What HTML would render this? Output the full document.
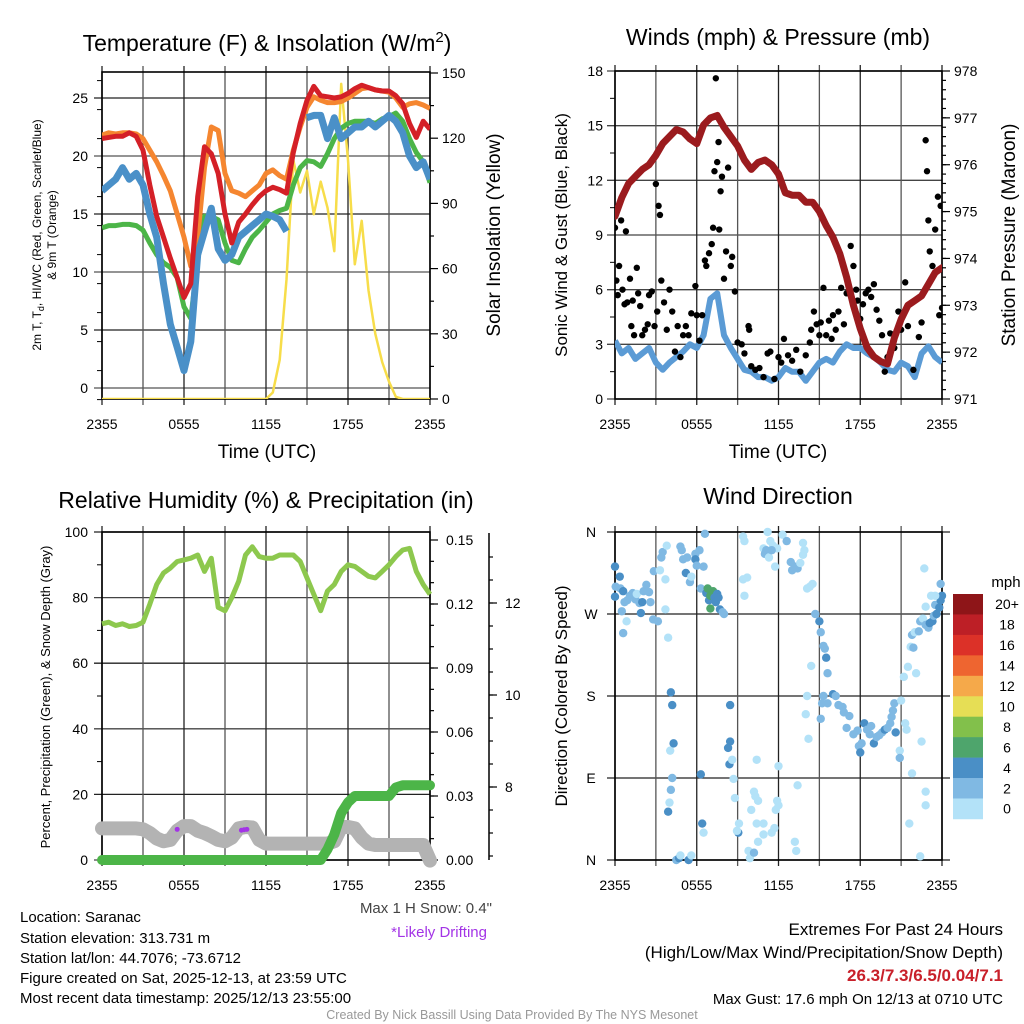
<!DOCTYPE html>
<html><head><meta charset="utf-8"><style>
html,body{margin:0;padding:0;background:#fff;}
svg{display:block;font-family:"Liberation Sans",Arial,sans-serif;}
</style></head><body>
<svg id="c" width="1024" height="1024" viewBox="0 0 1024 1024" xmlns="http://www.w3.org/2000/svg">
<g id="g"></g>
<text x="267" y="51" font-size="23" text-anchor="middle">Temperature (F) &amp; Insolation (W/m<tspan dy="-9" font-size="15">2</tspan><tspan dy="9">)</tspan></text>
<text x="778" y="45" font-size="23" text-anchor="middle">Winds (mph) &amp; Pressure (mb)</text>
<text x="266" y="508" font-size="23" text-anchor="middle">Relative Humidity (%) &amp; Precipitation (in)</text>
<text x="778" y="504" font-size="23" text-anchor="middle">Wind Direction</text>
<text transform="translate(41,235) rotate(-90)" font-size="12" text-anchor="middle">2m T, T<tspan font-size="9" dy="3">d</tspan><tspan dy="-3">, HI/WC (Red, Green, Scarlet/Blue)</tspan></text>
<text transform="translate(56,235) rotate(-90)" font-size="12" text-anchor="middle">&amp; 9m T (Orange)</text>
<text transform="translate(500,235) rotate(-90)" font-size="19" text-anchor="middle">Solar Insolation (Yellow)</text>
<text x="267" y="458" font-size="19" text-anchor="middle">Time (UTC)</text>
<text x="778" y="458" font-size="19" text-anchor="middle">Time (UTC)</text>
<text transform="translate(567,235) rotate(-90)" font-size="17" text-anchor="middle">Sonic Wind &amp; Gust (Blue, Black)</text>
<text transform="translate(1015,235) rotate(-90)" font-size="19" text-anchor="middle">Station Pressure (Maroon)</text>
<text transform="translate(50,697) rotate(-90)" font-size="13" text-anchor="middle">Percent, Precipitation (Green), &amp; Snow Depth (Gray)</text>
<text transform="translate(567,696) rotate(-90)" font-size="17" text-anchor="middle">Direction (Colored By Speed)</text>
<text x="492" y="913" font-size="15" fill="#444" text-anchor="end">Max 1 H Snow: 0.4"</text>
<text x="487" y="937" font-size="15" fill="#a334e6" text-anchor="end">*Likely Drifting</text>
<g font-size="15">
<text x="20" y="922">Location: Saranac</text>
<text x="20" y="943">Station elevation: 313.731 m</text>
<text x="20" y="963">Station lat/lon: 44.7076; -73.6712</text>
<text x="20" y="983">Figure created on Sat, 2025-12-13, at 23:59 UTC</text>
<text x="20" y="1003">Most recent data timestamp: 2025/12/13 23:55:00</text>
</g>
<g text-anchor="end">
<text x="1003" y="935" font-size="17">Extremes For Past 24 Hours</text>
<text x="1003" y="958" font-size="17">(High/Low/Max Wind/Precipitation/Snow Depth)</text>
<text x="1003" y="981" font-size="17" font-weight="bold" fill="#c8202a">26.3/7.3/6.5/0.04/7.1</text>
<text x="1003" y="1004" font-size="15">Max Gust: 17.6 mph On 12/13 at 0710 UTC</text>
</g>
<text x="512" y="1019" font-size="12.5" fill="#999" text-anchor="middle">Created By Nick Bassill Using Data Provided By The NYS Mesonet</text>
</svg>
<script>
// ---------- data ----------
const hours = [0,0.5,1,1.5,2,2.5,3,3.5,4,4.5,5,5.5,6,6.5,7,7.5,8,8.5,9,9.5,10,10.5,11,11.5,12,12.5,13,13.5,14,14.5,15,15.5,16,16.5,17,17.5,18,18.5,19,19.5,20,20.5,21,21.5,22,22.5,23,23.5,24];
const timeTicks = [0,6,12,18,24];
const timeTickLabels = ["2355","0555","1155","1755","2355"];
const tempRed = [21.5,21.6,21.7,21.7,22,21.7,20.5,17.5,14.8,13,11.2,9.5,7.8,9,16.5,20.8,20.2,18.5,15,12.5,14.3,15,15.8,16.5,17,17.3,17.1,16.8,20.3,22.8,24.8,26,25.2,25.1,25,25.1,25.4,25.8,26.1,25.9,25.7,25.6,25.6,25.2,24.5,22.8,21.6,23,22.3];
const tempOrange = [21.8,22,21.9,22,22,21.9,21.5,20.5,19.5,18.3,17,15,13,10.5,13,19,22.5,22.2,18.5,17,16.8,16.5,17,17.5,18.5,18.8,18.3,18,20.5,22.5,24.2,25.1,24.8,24.6,24.6,24.7,25,25.4,25.8,25.9,25.7,25.6,25.5,25,24.2,24.5,24.6,24.4,24.1];
const dewGreen = [13.8,14,14,14.1,14.1,14,13.6,12.5,11.5,10.8,10.4,9.5,7,6,11,14.8,14.8,14.5,12.5,11,10.8,12,13,13.6,14.3,15,15.3,15.5,17.5,19,19.6,19.5,19.1,20.2,21.5,22.4,22.8,23,23,23,22.8,23.2,23.4,23.7,23,21.5,20.3,19.5,17.7];
const windChillBlue = [17,17.5,18,19,18,18.5,17.5,15,13,9,5.5,3.5,1.5,4,11.5,13.5,15.5,12,11,11.5,13,13.5,14,14.5,15,14.8,14.5,13.5,null,null,23.3,23.5,23.5,21.5,23.3,21.5,22,22.5,22.5,23,22.5,23,23.5,23,22,20,19,19.5,18];
const solar = [0,0,0,0,0,0,0,0,0,0,0,0,0,0,0,0,0,0,0,0,0,0,0,0,0,3,18,55,110,95,105,85,100,88,68,145,110,62,82,50,30,17,8,1,0,0,0,0,0];
const tempTicks = [0,5,10,15,20,25];
const solarTicks = [0,30,60,90,120,150];

const pressure = [974.9,975.3,975.6,975.75,975.9,976,976.2,976.45,976.6,976.75,976.7,976.55,976.45,976.85,977,977.05,976.8,976.6,976.4,976.1,975.9,976.05,976.1,976,975.8,975.4,975.35,975.35,975.2,975.2,975,974.7,974.45,974.1,973.6,973,972.5,972.1,971.9,971.8,971.75,972.3,972.7,973,973.1,973.2,973.45,973.7,973.8];
const windSpeed = [3.2,2.5,2.8,2.2,2.5,2.8,2,1.6,2,2.3,2.6,3,2.8,3.5,5.5,5.8,3.5,2.8,2.2,1.6,1.5,1.2,1.2,1,1.2,1.7,1.5,1.5,1,1.5,2,2.2,2,2.6,3,2.8,2.8,2.5,2.3,2,1.6,1.5,2,1.8,1.2,2.5,2.9,2.3,2];
const gustHours = [0,0.1,0.2,0.3,0.45,0.55,0.7,0.8,0.9,1.1,1.2,1.3,1.4,1.6,1.7,1.85,2,2.2,2.4,2.5,2.7,2.9,3,3.1,3.2,3.3,3.4,3.6,3.8,4,4.2,4.4,4.6,4.8,5,5.2,5.4,5.6,5.9,6,6.2,6.4,6.6,6.7,6.9,7.1,7.2,7.3,7.4,7.5,7.6,7.65,7.75,7.85,8,8.15,8.3,8.5,8.6,8.8,9,9.3,9.5,9.8,9.85,10,10.3,10.6,10.9,11.2,11.4,11.7,12,12.2,12.4,12.7,13,13.3,13.6,14,14.3,14.4,14.6,14.8,15,15.1,15.3,15.5,15.7,15.9,16,16.2,16.4,16.6,16.8,17,17.3,17.5,17.7,17.8,18,18.2,18.4,18.6,18.8,19,19.2,19.4,19.6,19.8,20,20.2,20.5,20.8,21,21.3,21.5,21.9,22.3,22.5,22.8,22.9,23,23.1,23.3,23.5,23.7,23.8,23.9,24];
const gustValues = [9.4,6.5,5.7,7.3,9.8,6,5.2,9.2,5.3,6.6,4,5.4,3.5,7.2,5.8,5.1,3.5,3.8,4.1,5.7,5.9,4,11.8,4.8,10.6,10.1,6.5,5.3,3.8,6,4.8,2.6,4,2.3,3.5,4,3.5,4.7,6.2,4.6,3.2,4.6,7.6,7.3,8,8.5,9.4,12.5,17.6,13,14.1,9.3,11.4,12.2,6.6,8.1,12.7,7.3,7.8,5.9,3.1,3,2.5,4,3.8,1.8,1.6,1.7,1.2,2.5,2.6,1.1,2.3,2,3.3,2.4,2.1,2.7,1.5,2.4,3.1,3.8,4.8,4.1,3.5,4.2,6.1,3.5,4.3,3.3,4.6,3.8,4.8,6.1,4.1,5.8,8.4,7.3,6,5.4,4.4,5.2,5.8,6,5.6,6.3,4.9,4.3,3.5,1.5,2.3,3.6,2.8,4.8,3.8,6.4,4,1.6,3.4,4.2,14.2,12.5,9.8,8.1,7.3,9.3,11.1,4.6,10.6,5];
const windTicks = [0,3,6,9,12,15,18];
const pressureTicks = [971,972,973,974,975,976,977,978];

const humidity = [72,72.5,71.5,72,71.2,71.5,72.5,78,84,87.5,89,91,91.5,92,93,88,92,77,76,80,85,93,95.5,92.5,92,92,93,93,93,91,86,81,76,82,84,88,90,89.5,88,86.5,86,88,90,92.5,94.5,95,88,84,81];
const precip = [0,0,0,0,0,0,0,0,0,0,0,0,0,0,0,0,0,0,0,0,0,0,0,0,0,0,0,0,0,0,0,0,0,0.005,0.012,0.022,0.027,0.03,0.03,0.03,0.03,0.03,0.03,0.034,0.035,0.035,0.035,0.035,0.035];
const snowDepth = [7.1,7.1,7.1,7.1,7.1,7.1,7.08,7,6.88,6.82,6.85,7.05,7.15,7.15,7.05,7,6.93,6.85,6.82,6.9,7.1,7.13,7.12,6.85,6.77,6.77,6.77,6.77,6.77,6.77,6.77,6.77,6.77,6.77,6.82,7.13,7.13,7.1,6.9,6.77,6.74,6.74,6.74,6.74,6.74,6.74,6.74,6.74,6.4];
const driftHours = [5.5,10.2,10.4,10.6];
const driftSnow = [7.08,7.06,7.07,7.08];
const humidityTicks = [0,20,40,60,80,100];
const precipTicks = [0,0.03,0.06,0.09,0.12,0.15];
const precipTickLabels = ["0.00","0.03","0.06","0.09","0.12","0.15"];
const snowTicks = [8,10,12];

const dirHours = [0,0,0.05,0.35,0.4,0.5,0.6,0.7,0.85,0.6,0.9,1.1,1.3,1.5,1.6,1.8,1.9,2,2.1,2.3,2.5,2.6,2.85,2.8,3.15,3.3,3.4,3.5,3.7,3.7,3.8,3.9,4.8,4.9,5,5.2,5.3,5.5,5.6,5.9,5.9,6,6.2,6.3,6.5,6.6,6.7,6.8,6.9,7,7,7.2,7.3,7.4,7.5,7.6,7.7,7.9,8,4.1,4.2,4.05,4.3,4.2,4.1,4,3.9,4.5,4.7,4.8,5.4,5.6,6.3,6.4,6.5,8.45,8.45,8.3,8.4,8.6,8.7,8.8,9.1,9.05,8.95,9.4,9.5,9.4,9.5,9.7,10.4,10.2,10.3,10,10.5,10.4,10.5,9.8,9.9,10.2,10.9,10.9,11.5,11.7,11.8,12,11.9,12,11.2,11.4,11.6,11.9,10.9,11,11.1,11.3,11.5,11.75,12.3,12.6,12.9,13,13.2,13.4,13.6,13.8,13.9,13.8,13.4,13.2,13.3,14.3,14.5,14.1,14.7,15,15.1,15.3,15.4,15.5,15.6,14.4,14.1,14,14.2,15.3,15.2,15.1,15.6,16,16.2,16.4,16.7,16.8,17,17.2,17.5,17.8,17.9,18,18.1,18.3,18.5,18.7,18.8,19,19.2,19.4,19.6,19.8,20,20.2,20.3,20.4,20.5,20.6,20.9,20.9,21,21.3,21.4,21.2,21.5,21.7,21.8,21.9,22.1,22,22.3,22.4,22.6,22.8,23,23.1,23.3,23.4,23.5,23.6,23.8,23.9,24,23.9,23.5,22.8,23.2,21.8,21.6,22.5,22.8,22.8,22.4,22.7];
const dirDegrees = [322,289,300,311,298,273,295,283,262,249,285,290,293,286,292,282,271,283,295,302,294,283,317,264,262,318,332,338,308,275,345,244,344,340,330,315,332,305,311,336,330,323,340,298,322,358,293,298,285,290,276,295,288,283,292,288,275,272,270,184,170,120,128,90,77,63,53,0,2,5,0,5,94,40,30,170,130,123,105,110,89,68,40,30,32,355,350,308,290,310,110,75,70,55,65,40,20,10,2,8,28,40,30,35,55,60,65,103,360,350,345,342,342,336,340,332,340,322,357,350,327,318,322,320,326,335,340,348,82,20,10,300,303,298,270,262,250,235,232,222,205,213,180,160,133,180,172,155,172,182,180,170,168,162,145,158,138,142,125,118,128,150,143,138,147,128,135,137,140,143,145,150,157,164,172,140,120,112,175,150,143,201,212,234,247,233,205,250,251,262,265,258,255,260,262,268,280,270,277,285,290,303,290,278,290,95,40,130,60,75,4,320];
const dirSpeeds = [4,4,2,4,2,2,4,2,0,2,2,2,2,2,0,2,4,4,2,2,2,2,2,2,2,0,2,2,0,0,0,0,2,2,2,4,2,2,0,2,4,2,2,2,2,2,4,6,4,6,6,6,4,4,4,4,4,2,2,4,4,0,4,2,2,0,4,2,4,0,4,0,4,4,0,4,4,4,4,0,0,0,0,4,0,0,0,0,0,0,0,0,0,0,0,0,0,0,0,2,0,0,0,0,0,0,0,0,0,0,0,0,0,2,2,0,2,0,0,2,2,2,2,2,0,0,0,0,0,0,0,0,0,0,2,4,2,2,2,4,2,0,0,0,0,2,2,2,2,4,2,2,2,2,2,2,2,2,2,4,2,4,2,2,2,4,2,2,2,4,2,2,2,2,2,4,0,2,0,0,0,0,0,0,2,2,0,0,2,2,0,2,2,4,4,2,2,4,4,4,4,2,0,0,0,0,0,0,0,0,0,0,0];
const dirTicks = [0,90,180,270,360];
const dirTickLabels = ["N","E","S","W","N"];
const speedLevels = ["0","2","4","6","8","10","12","14","16","18","20+"];
const speedColors = ["#b3e2f8","#80b9e3","#4a8fc6","#4ea56c","#82c04b","#e6de55","#f5a94a","#ee6530","#dc3128","#bd1f26","#8e1518"];

// ---------- helpers ----------
const NS="http://www.w3.org/2000/svg";
const root=document.getElementById('g');
function mk(tag,attrs,parent){const e=document.createElementNS(NS,tag);for(const k in attrs)e.setAttribute(k,attrs[k]);(parent||root).appendChild(e);return e;}
function lin(d0,d1,r0,r1){return v=>r0+(v-d0)*(r1-r0)/(d1-d0);}
function pathFrom(xs,ys,fx,fy){let d="",pen=false;for(let i=0;i<xs.length;i++){if(ys[i]===null){pen=false;continue;}d+=(pen?"L":"M")+fx(xs[i]).toFixed(1)+","+fy(ys[i]).toFixed(1);pen=true;}return d;}

function frame(x0,x1,y0,y1,name){
  for(let h=0;h<=24;h+=3){const x=lin(0,24,x0,x1)(h);
    const l=mk('line',{x1:x,x2:x,y1:y0-6,y2:y1+6,stroke:(h%6===0?'#222':'#555'),'stroke-width':1.3});
    
    }
  const b=mk('rect',{x:x0,y:y0,width:x1-x0,height:y1-y0,fill:'none',stroke:'#000','stroke-width':1.6});
  
  
  const fx=lin(0,24,x0,x1);
  timeTicks.forEach((t,i)=>{const tx=mk('text',{x:fx(t),y:y1+30,'font-size':14,'text-anchor':'middle'});tx.textContent=timeTickLabels[i];
    
    });
}
function hgrid(x0,x1,y,color){const l=mk('line',{x1:x0-8,x2:x1,y1:y,y2:y,stroke:color||'#333','stroke-width':1.3});
  
  }
function label(x,y,txt,anchor,name){const t=mk('text',{x:x,y:y+5,'font-size':14,'text-anchor':anchor});t.textContent=txt;
  
  }
function rtick(x,y,len){mk('line',{x1:x,x2:x+len,y1:y,y2:y,stroke:'#000','stroke-width':1.2});}

// ---------- panel 1 ----------
(function(){
  const X0=102,X1=430,Y0=72,Y1=399;
  const fx=lin(0,24,X0,X1), fy=lin(0,25,388,98), fs=lin(0,150,399,73);
  tempTicks.forEach(v=>{hgrid(X0,X1,fy(v),v%10===0?'#555':'#222');label(X0-14,fy(v),String(v),'end','temp-y-tick-label');});
  for(let v=-1;v<=27;v+=2.5)mk('line',{x1:X0-5,x2:X0,y1:fy(v),y2:fy(v),stroke:'#000'});
  solarTicks.forEach(v=>{rtick(X1,fs(v),8);label(X1+12,fs(v),String(v),'start','solar-y-tick-label');});
  for(let v=15;v<150;v+=30)rtick(X1,fs(v),4);
  frame(X0,X1,Y0,Y1,'temp-panel');
  const clip=mk('clipPath',{id:'cp1'});mk('rect',{x:X0,y:Y0,width:X1-X0,height:Y1-Y0},clip);
  const g=mk('g',{'clip-path':'url(#cp1)'});
  let p=mk('path',{d:pathFrom(hours,solar,fx,fs),fill:'none',stroke:'#f7dd4a','stroke-width':2.5,'stroke-linejoin':'round'},g);
  
  
  p=mk('path',{d:pathFrom(hours,dewGreen,fx,fy),fill:'none',stroke:'#4cb548','stroke-width':5,'stroke-linejoin':'round'},g);
  
  
  p=mk('path',{d:pathFrom(hours,tempOrange,fx,fy),fill:'none',stroke:'#f58630','stroke-width':5,'stroke-linejoin':'round'},g);
  
  
  p=mk('path',{d:pathFrom(hours,windChillBlue,fx,fy),fill:'none',stroke:'#4a90c8','stroke-width':7,'stroke-linejoin':'round'},g);
  
  
  p=mk('path',{d:pathFrom(hours,tempRed,fx,fy),fill:'none',stroke:'#d42027','stroke-width':5,'stroke-linejoin':'round'},g);
  
  
})();

// ---------- panel 2 ----------
(function(){
  const X0=615,X1=942,Y0=71,Y1=399;
  const fx=lin(0,24,X0,X1), fy=lin(0,18,399,71), fp=lin(971,978,399,71);
  windTicks.forEach(v=>{hgrid(X0,X1,fy(v),'#444');label(X0-12,fy(v),String(v),'end','wind-y-tick-label');});
  for(let v=1.5;v<18;v+=3)mk('line',{x1:X0-5,x2:X0,y1:fy(v),y2:fy(v),stroke:'#000'});
  pressureTicks.forEach(v=>{rtick(X1,fp(v),8);label(X1+12,fp(v),String(v),'start','pressure-y-tick-label');});
  for(let v=971.2;v<978;v+=0.2)rtick(X1,fp(v),4);
  frame(X0,X1,Y0,Y1,'wind-panel');
  const clip=mk('clipPath',{id:'cp2'});mk('rect',{x:X0,y:Y0,width:X1-X0,height:Y1-Y0},clip);
  const g=mk('g',{'clip-path':'url(#cp2)'});
  let p=mk('path',{d:pathFrom(hours,windSpeed,fx,fy),fill:'none',stroke:'#5b9bd5','stroke-width':6,'stroke-linejoin':'round'},g);
  
  
  gustHours.forEach((h,i)=>{const c=mk('circle',{cx:fx(h),cy:fy(gustValues[i]),r:3.2,fill:'#000'},g);
    
    });
  p=mk('path',{d:pathFrom(hours,pressure,fx,fp),fill:'none',stroke:'#9b1b1e','stroke-width':7,'stroke-linejoin':'round','stroke-linecap':'round'},g);
  
  
})();

// ---------- panel 3 ----------
(function(){
  const X0=102,X1=430,Y0=532,Y1=860;
  const fx=lin(0,24,X0,X1), fy=lin(0,100,860,532), fpr=lin(0,0.03,860,796), fsn=lin(8,10,787,695);
  humidityTicks.forEach(v=>{hgrid(X0,X1,fy(v),v%40===0?'#444':'#222');label(X0-14,fy(v),String(v),'end','humidity-y-tick-label');});
  for(let v=10;v<100;v+=20)mk('line',{x1:X0-5,x2:X0,y1:fy(v),y2:fy(v),stroke:'#000'});
  precipTicks.forEach((v,i)=>{rtick(X1,fpr(v),8);label(X1+16,fpr(v),precipTickLabels[i],'start','precip-y-tick-label');});
  for(let v=0.01;v<0.15;v+=0.01)rtick(X1,fpr(v),4);
  mk('line',{x1:489,x2:489,y1:533,y2:860,stroke:'#000','stroke-width':1.5});
  snowTicks.forEach(v=>{rtick(489,fsn(v),8);label(505,fsn(v),String(v),'start','snow-y-tick-label');});
  for(let v=6.5;v<13.5;v+=0.5)if(fsn(v)>533&&fsn(v)<860)rtick(489,fsn(v),4);
  frame(X0,X1,Y0,Y1,'humidity-panel');
  let p=mk('path',{d:pathFrom(hours,snowDepth,fx,fsn),fill:'none',stroke:'#b3b3b3','stroke-width':14,'stroke-linejoin':'round','stroke-linecap':'round'});
  
  
  driftHours.forEach((h,i)=>{const c=mk('circle',{cx:fx(h),cy:fsn(driftSnow[i]),r:2.5,fill:'#a334e6'});
    
    });
  p=mk('path',{d:pathFrom(hours,precip,fx,fpr),fill:'none',stroke:'#4cb548','stroke-width':10,'stroke-linejoin':'round','stroke-linecap':'round'});
  
  
  p=mk('path',{d:pathFrom(hours,humidity,fx,fy),fill:'none',stroke:'#8dc84e','stroke-width':5,'stroke-linejoin':'round'});
  
  
})();

// ---------- panel 4 ----------
(function(){
  const X0=615,X1=942,Y0=532,Y1=860;
  const fx=lin(0,24,X0,X1), fy=lin(0,360,860,532);
  dirTicks.forEach((v,i)=>{const y=fy(v);const l=mk('line',{x1:X0-8,x2:X1+8,y1:y,y2:y,stroke:'#222','stroke-width':1.3});
    
    
    label(X0-24,y,dirTickLabels[i],'middle','direction-tick-label');});
  frame(X0,X1,Y0,Y1,'direction-panel');
  dirHours.forEach((h,i)=>{const s=dirSpeeds[i];const idx=Math.min(10,Math.floor(s/2));
    const c=mk('circle',{cx:fx(h),cy:fy(dirDegrees[i]),r:4.2,fill:speedColors[idx]});
    
    });
  const bh=20.45, top=594;
  const t=mk('text',{x:1006,y:587,'font-size':15,'text-anchor':'middle'});t.textContent='mph';
  
  
  speedLevels.forEach((lv,i)=>{const j=10-i;const y=top+bh*i;
    const r=mk('rect',{x:953,y:y,width:30,height:bh+0.3,fill:speedColors[10-i]});
    
    
    const tx=mk('text',{x:1007,y:y+bh/2+5,'font-size':14,'text-anchor':'middle'});tx.textContent=speedLevels[j];
    
    });
})();
</script>
</body></html>
